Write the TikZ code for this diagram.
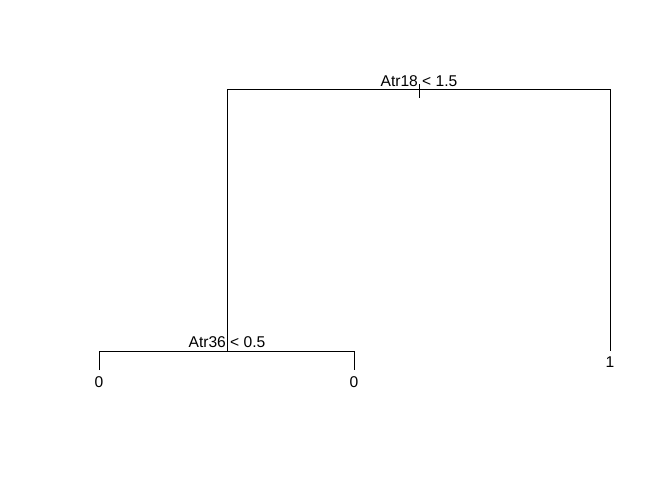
\documentclass[tikz,border=0pt]{standalone}
\usepackage{fontspec}
\setmainfont{Liberation Sans}
\tikzset{
  branch/.style={line width=1pt, black},
  split/.style={inner sep=0pt, anchor=base, font=\fontsize{15.6}{18}\selectfont},
  leaf/.style={inner sep=0pt, font=\fontsize{15.6}{18}\selectfont}
}
\begin{document}
\begin{tikzpicture}[x=1pt,y=-1pt]
  \useasboundingbox (0,0) rectangle (672,480);
  % Knoten des Baums
  \coordinate (root) at (419,89.5);
  \coordinate (rootL) at (227,89.5);
  \coordinate (rootR) at (610,89.5);
  \coordinate (n2) at (227,351);
  \coordinate (n2L) at (99,351);
  \coordinate (n2R) at (354,351);
  \coordinate (leafA) at (99,370);
  \coordinate (leafB) at (354,370);
  \coordinate (leafC) at (610,351);
  % Aeste
  \draw[branch] (419,84) -- (419,98);
  \draw[branch] (n2) -- (rootL) -- (rootR) -- (leafC);
  \draw[branch] (leafA) -- (n2L) -- (n2R) -- (leafB);
  % Beschriftungen
  \node[split] (s1) at (419,86.5) {Atr18 < 1.5};
  \node[split] (s2) at (227,347) {Atr36 < 0.5};
  \node[leaf] (l1) at (99,382) {0};
  \node[leaf] (l2) at (354,382) {0};
  \node[leaf] (l3) at (610,362) {1};
\end{tikzpicture}
\end{document}
